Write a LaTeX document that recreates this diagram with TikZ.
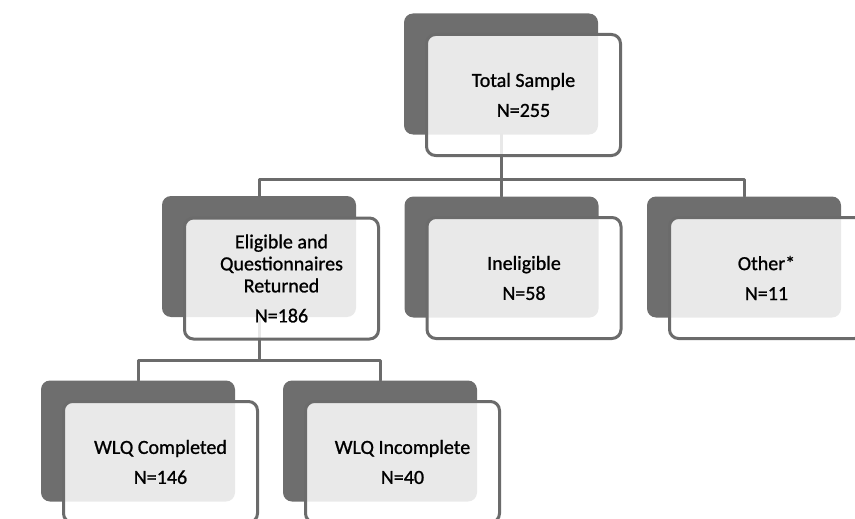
\documentclass[tikz,border=0pt]{standalone}
\usepackage{fontspec}
\setmainfont{Carlito}
\newfontfamily\boxfont{Carlito}[FakeBold=1]
\definecolor{boxgray}{rgb}{0.43,0.43,0.43}
\definecolor{linegray}{rgb}{0.42,0.42,0.42}
\begin{document}
\begin{tikzpicture}[line cap=round,line join=round,x=1pt,y=-1pt,
  back/.style={fill=boxgray,rounded corners=9pt,minimum width=194pt,
    minimum height=121pt,inner sep=0pt},
  front/.style={draw=linegray,line width=3pt,fill=white,fill opacity=0.85,
    text opacity=1,rounded corners=9pt,minimum width=194pt,
    minimum height=121pt,inner sep=0pt,align=center,
    font=\boxfont\fontsize{20}{22}\selectfont},
  link/.style={draw=linegray,line width=3pt}]
  \useasboundingbox (0,0) rectangle (855,519);
  \clip (0,0) rectangle (855,519);
  % dark boxes behind
  \node[back] (totalback) at (501,74) {};
  \node[back] (eligback) at (259,256.5) {};
  \node[back] (inelback) at (501.5,257) {};
  \node[back] (otherback) at (744,257) {};
  \node[back] (wlqcback) at (138,441) {};
  \node[back] (wlqiback) at (380,441) {};
  % connectors
  \draw[link] (totalback.south) -- ++(0,45) -| (eligback.north);
  \draw[link] (totalback.south) -- ++(0,45) -| (inelback.north);
  \draw[link] (totalback.south) -- ++(0,45) -| (otherback.north);
  \draw[link] (eligback.south) -- ++(0,43) -| (wlqcback.north);
  \draw[link] (eligback.south) -- ++(0,43) -| (wlqiback.north);
  % front boxes
  \node[front] (total) at (523.5,95) {Total Sample\\[8pt]N=255};
  \node[front] (elig) at (281.5,278.5)
    {Eligible and\\Questionnaires\\Returned\\[8pt]N=186};
  \node[front] (inel) at (524,278) {Ineligible\\[8pt]N=58};
  \node[front] (other) at (766.5,278) {Other*\\[8pt]N=11};
  \node[front] (wlqc) at (160.5,462) {WLQ Completed\\[8pt]N=146};
  \node[front] (wlqi) at (402.5,462) {WLQ Incomplete\\[8pt]N=40};
\end{tikzpicture}
\end{document}
